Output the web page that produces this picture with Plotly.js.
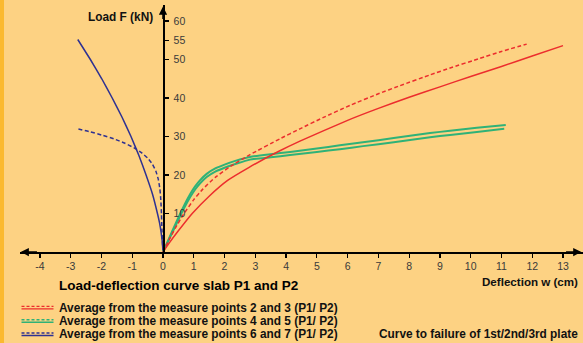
<!DOCTYPE html>
<html><head><meta charset="utf-8">
<script src="https://cdn.plot.ly/plotly-3.0.1.min.js"></script>
<style>html,body{margin:0;padding:0;background:#FDD283;overflow:hidden}#chart{width:583px;height:343px}</style>
</head><body><div id="chart"></div>
<script>
// ---- data ----
const xTickVals = [-4,-3,-2,-1,0,1,2,3,4,5,6,7,8,9,10,11,12,13];
const yTickVals = [10,20,30,40,50,55,60];

// Average from measure points 2 and 3 (red)
const redDashX = [0,0.2,0.4,0.66,1.0,1.3,1.7,2.2,2.83,3.8,4.45,5.2,6.08,7,7.7,8.68,9.33,10.3,11,11.82];
const redDashY = [0,3.2,6.2,9.7,13.6,16.4,19.4,22.3,25.3,29.4,32.0,34.9,38.1,41.1,43.2,46.0,47.8,50.3,52.1,54.0];
const redSolidX = [0,0.2,0.5,0.95,1.5,2.1,2.8,3.75,4.45,6,7,8,9,10,11,12,13];
const redSolidY = [0,2.3,5.5,10,14.5,18.6,22.0,26.1,28.8,34.2,37.3,40.2,42.9,45.6,48.2,50.9,53.6];

// Average from measure points 4 and 5 (green)
const greenAX = [0,0.15,0.3,0.52,0.7,0.88,1.05,1.2,1.42,1.7,2,2.4,2.83,3.5,4.13,5,5.75,6.5,7.5,8.68,9.33,10.2,11.14];
const greenAY = [0,2.7,5.4,9.3,12.3,15.0,17.1,18.6,20.3,21.7,22.7,23.8,24.7,25.4,26.0,26.9,27.7,28.5,29.6,30.9,31.5,32.3,33.0];
const greenBX = [0,0.15,0.3,0.52,0.7,0.88,1.05,1.2,1.42,1.7,2,2.4,2.83,3.5,4.13,5,5.75,6.5,7.5,8.68,9.33,10.2,11.09];
const greenBY = [0,2.5,5.0,8.7,11.6,14.2,16.3,17.8,19.5,20.9,21.9,23.0,24.0,24.6,25.2,26.0,26.7,27.5,28.5,29.8,30.4,31.2,32.0];

// Average from measure points 6 and 7 (blue)
const blueDashX = [0,-0.02,-0.035,-0.05,-0.07,-0.1,-0.15,-0.23,-0.35,-0.5,-0.7,-0.95,-1.25,-1.6,-2.0,-2.4,-2.78];
const blueDashY = [0,3,6,10,13.5,16.3,18.8,21,22.9,24.4,25.8,27.1,28.3,29.4,30.4,31.3,32.0];
const blueSolidX = [0,-0.02,-0.06,-0.11,-0.18,-0.34,-0.55,-0.78,-1.04,-1.33,-1.65,-1.99,-2.36,-2.77];
const blueSolidY = [0,2.5,5,7.5,10,15,20,25,30,35,40,45,50,55.2];

const legendLabels = [
  "Average from the measure points 2 and 3 (P1/ P2)",
  "Average from the measure points 4 and 5 (P1/ P2)",
  "Average from the measure points 6 and 7 (P1/ P2)"
];
const chartTitle = "Load-deflection curve slab P1 and P2";
const xTitle = "Deflection w (cm)";
const yTitle = "Load F (kN)";
const noteText = "Curve to failure of 1st/2nd/3rd plate";

// ---- styling / geometry ----
const RED = "#EC2D2D", GREEN = "#2FB277", BLUE = "#2E3192";
const BG = "#FDD283", BAR = "#FBB92F";
const W = 583, H = 343, L = 20, R = 0, T = 5, B = 91;
const plotW = W - L - R, plotH = H - T - B;
const xRange = [-4.647, 13.65], yRange = [0, 64.16];
const FONT = "Liberation Sans, Arial, Helvetica, sans-serif";
const DASH = "4px,2.5px";
const px = p => (p - L) / plotW;
const py = p => (H - B - p) / plotH;

function line(x, y, color, dash, width) {
  return {x, y, type: "scatter", mode: "lines", hoverinfo: "skip", showlegend: false,
          line: {color, width: width || 1.5, dash: dash || "solid", shape: "spline", smoothing: 0.4}};
}
const traces = [
  line(blueSolidX, blueSolidY, BLUE),
  line(blueDashX, blueDashY, BLUE, DASH),
  line(greenAX, greenAY, GREEN, null, 2),
  line(greenBX, greenBY, GREEN, null, 2),
  line(redSolidX, redSolidY, RED),
  line(redDashX, redDashY, RED, DASH)
];

const legendColors = [RED, GREEN, BLUE];
const rowY = [307.6, 320.9, 334.2];
const shapes = [
  {type: "rect", xref: "paper", yref: "paper", x0: px(0), x1: px(4), y0: py(H), y1: py(0),
   fillcolor: BAR, line: {width: 0}, layer: "below"}
];
const annotations = [];
const boldFont = {family: FONT, size: 11.85, color: "#111", weight: "bold"};
legendColors.forEach((c, i) => {
  shapes.push({type: "line", xref: "paper", yref: "paper", x0: px(21.5), x1: px(53.5),
               y0: py(rowY[i] - 1.2), y1: py(rowY[i] - 1.2), line: {color: c, width: 1.4, dash: "3px,2px"}});
  shapes.push({type: "line", xref: "paper", yref: "paper", x0: px(21.5), x1: px(53.5),
               y0: py(rowY[i] + 1.3), y1: py(rowY[i] + 1.3), line: {color: c, width: 1.4}});
  annotations.push({xref: "paper", yref: "paper", x: px(57), y: py(rowY[i]), xanchor: "left", yanchor: "middle",
                    text: legendLabels[i], showarrow: false, font: boldFont});
});
annotations.push(
  {xref: "paper", yref: "paper", x: px(57), y: py(285.5), xanchor: "left", yanchor: "middle",
   text: chartTitle, showarrow: false, font: {family: FONT, size: 13.5, color: "#000", weight: "bold"}},
  {xref: "paper", yref: "paper", x: px(580), y: py(281), xanchor: "right", yanchor: "middle",
   text: xTitle, showarrow: false, font: {family: FONT, size: 11.6, color: "#111", weight: "bold"}},
  {xref: "paper", yref: "paper", x: px(155), y: py(17.5), xanchor: "right", yanchor: "middle",
   text: yTitle, showarrow: false, font: boldFont},
  {xref: "paper", yref: "paper", x: px(580), y: py(334.2), xanchor: "right", yanchor: "middle",
   text: noteText, showarrow: false, font: boldFont},
  // axis arrowheads
  {xref: "x", yref: "y", axref: "x", ayref: "y", x: 0, y: yRange[1] - 0.4, ax: 0, ay: yRange[1] - 4,
   text: "", showarrow: true, arrowhead: 2, arrowsize: 1.1, arrowwidth: 1.5, arrowcolor: "#000", standoff: 0},
  {xref: "x", yref: "y", axref: "x", ayref: "y", x: xRange[0] + 0.02, y: 0, ax: xRange[0] + 0.6, ay: 0,
   text: "", showarrow: true, arrowhead: 2, arrowsize: 1.1, arrowwidth: 1.5, arrowcolor: "#000", standoff: 0},
  {xref: "x", yref: "y", axref: "x", ayref: "y", x: xRange[1] - 0.05, y: 0, ax: xRange[1] - 0.6, ay: 0,
   text: "", showarrow: true, arrowhead: 2, arrowsize: 1.1, arrowwidth: 1.5, arrowcolor: "#000", standoff: 0}
);

const tickFont = {family: FONT, size: 10.5, color: "#3a3a3a"};
const layout = {
  width: W, height: H,
  margin: {l: L, r: R, t: T, b: B, pad: 0},
  paper_bgcolor: BG, plot_bgcolor: "rgba(0,0,0,0)",
  showlegend: false,
  xaxis: {range: xRange, tickmode: "array", tickvals: xTickVals, ticktext: xTickVals.map(String),
          showgrid: false, zeroline: false, showline: true, linecolor: "#000", linewidth: 1.5,
          ticks: "outside", ticklen: 4, tickwidth: 1.2, tickcolor: "#000", tickfont: tickFont,
          anchor: "y", fixedrange: true},
  yaxis: {range: yRange, tickmode: "array", tickvals: yTickVals, ticktext: yTickVals.map(String),
          showgrid: false, zeroline: false, showline: true, linecolor: "#000", linewidth: 1.5,
          ticks: "outside", ticklen: 4, tickwidth: 1.2, tickcolor: "#000", tickfont: tickFont,
          ticklabelstandoff: 3,
          anchor: "free", position: px(163), side: "right", fixedrange: true},
  shapes, annotations
};
Plotly.newPlot("chart", traces, layout, {staticPlot: true, displayModeBar: false});
</script></body></html>
